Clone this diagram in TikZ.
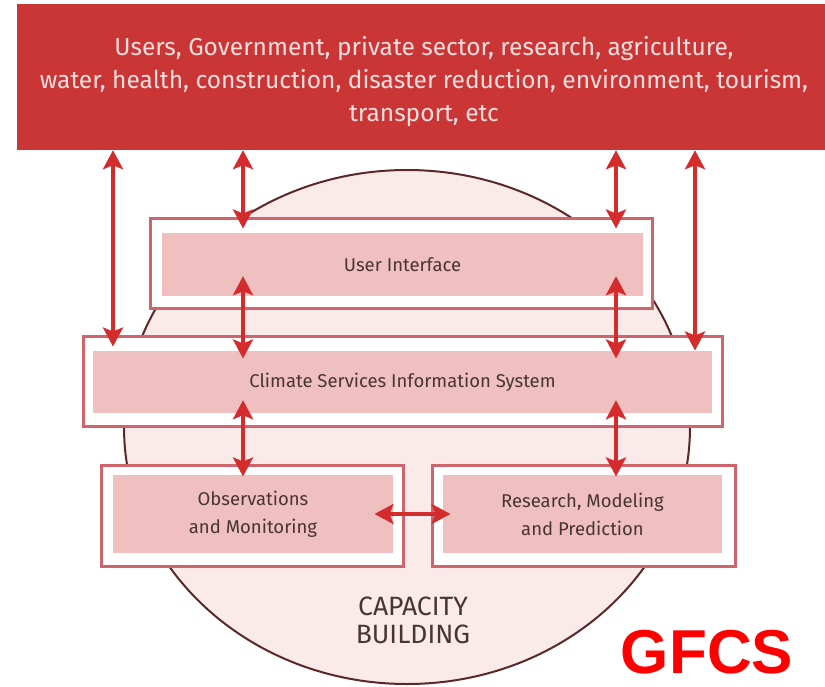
\documentclass[tikz,border=0pt]{standalone}
\usepackage{fontspec}
\setmainfont{Fira Sans}
\setsansfont{Liberation Sans}
\usetikzlibrary{arrows.meta,positioning}
\definecolor{topred}{RGB}{202,54,54}
\definecolor{toptext}{RGB}{250,222,222}
\definecolor{boxline}{RGB}{208,100,108}
\definecolor{boxfill}{RGB}{240,192,192}
\definecolor{circfill}{RGB}{251,234,234}
\definecolor{circline}{RGB}{90,40,40}
\definecolor{arrred}{RGB}{212,44,44}
\definecolor{textdark}{RGB}{72,52,52}
\tikzset{
	outerbox/.style={draw=boxline,line width=3pt,fill=white},
	innerbox/.style={fill=boxfill,text=textdark,align=center,font=\fontsize{18.5}{28}\selectfont},
	biarrow/.style={draw=arrred,line width=4pt,{Stealth[length=19pt,width=20pt,inset=4pt]}-{Stealth[length=19pt,width=20pt,inset=4pt]}}
}

\begin{document}
\begin{tikzpicture}[x=1pt,y=-1pt]
		\useasboundingbox (0,0) rectangle (825,686);

		\node[fill=topred,minimum width=808,minimum height=146] (users) at (421,77) {};
		\node[text=toptext,align=center,font=\fontsize{24.5}{33}\selectfont] (userstext) at (424,82) {Users, Government, private sector, research, agriculture,\\water, health, construction, disaster reduction, environment, tourism,\\transport, etc};

		\draw[circline,line width=2pt,fill=circfill] (407,427) ellipse [x radius=283,y radius=257];

		\node[outerbox,minimum width=502,minimum height=90] (uiout) at (401,263) {};
		\node[innerbox,minimum width=481,minimum height=63] (ui) at (402.5,264.5) {User Interface};

		\node[outerbox,minimum width=639,minimum height=90] (csisout) at (402.5,381) {};
		\node[innerbox,minimum width=619,minimum height=62] (csis) at (402.5,382) {Climate Services Information System};

		\node[outerbox,minimum width=302,minimum height=101] (obsout) at (252,515.5) {};
		\node[innerbox,minimum width=280,minimum height=78] (obs) at (253,514) {Observations\\and Monitoring};

		\node[outerbox,minimum width=303,minimum height=101] (resout) at (583.5,515.5) {};
		\node[innerbox,minimum width=279,minimum height=78] (res) at (582.5,514) {Research, Modeling\\and Prediction};

		\node[text=textdark,align=center,font=\fontsize{26.5}{28}\selectfont] (cap) at (413,620) {CAPACITY\\BUILDING};

		\node[text=red,font=\sffamily\bfseries\fontsize{62}{62}\selectfont] (gfcs) at (707,652) {GFCS};

		\coordinate (a) at (113,0);
		\coordinate (b) at (243,0);
		\coordinate (c) at (616,0);
		\coordinate (d) at (695,0);

		\draw[biarrow] (users.south -| a) -- ([yshift=-12]csisout.north -| a);
		\draw[biarrow] (users.south -| b) -- ([yshift=-12]uiout.north -| b);
		\draw[biarrow] (users.south -| c) -- ([yshift=-12]uiout.north -| c);
		\draw[biarrow] (users.south -| d) -- ([yshift=-16]csisout.north -| d);
		\draw[biarrow] ([yshift=20]ui.south -| b) -- ([yshift=-24]csisout.north -| b);
		\draw[biarrow] ([yshift=20]ui.south -| c) -- ([yshift=-24]csisout.north -| c);
		\draw[biarrow] ([yshift=13]csis.south -| b) -- ([yshift=-13]obsout.north -| b);
		\draw[biarrow] ([yshift=13]csis.south -| c) -- ([yshift=-13]resout.north -| c);
		\draw[biarrow] ([xshift=-30]obsout.east |- obs) -- ([xshift=20]resout.west |- obs);
	\end{tikzpicture}
\end{document}
